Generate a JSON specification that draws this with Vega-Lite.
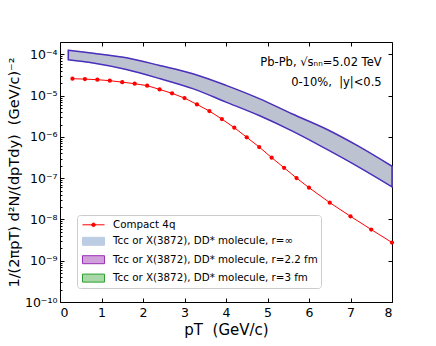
{
  "$schema": "https://vega.github.io/schema/vega-lite/v6.json",
  "width": 332,
  "height": 260,
  "autosize": "none",
  "padding": {"left": 60, "top": 42, "right": 44, "bottom": 44},
  "background": "white",
  "config": {
    "font": "DejaVu Sans",
    "view": {"stroke": "black", "strokeWidth": 1},
    "axis": {"domain": false, "grid": false, "tickColor": "black", "labelColor": "black", "titleColor": "black", "titleFontWeight": "normal"}
  },
  "datasets": {
    "band": [
      {"pT": 0.2, "hi": 1.26e-4, "lo": 7.4e-5},
      {"pT": 0.8, "hi": 1.07e-4, "lo": 6.2e-5},
      {"pT": 1.6, "hi": 8.3e-5, "lo": 4.3e-5},
      {"pT": 2.4, "hi": 5.4e-5, "lo": 2.6e-5},
      {"pT": 3.2, "hi": 3.4e-5, "lo": 1.48e-5},
      {"pT": 4.0, "hi": 1.78e-5, "lo": 7.0e-6},
      {"pT": 4.8, "hi": 8.5e-6, "lo": 3.3e-6},
      {"pT": 5.6, "hi": 3.6e-6, "lo": 1.38e-6},
      {"pT": 6.4, "hi": 1.58e-6, "lo": 5.2e-7},
      {"pT": 7.2, "hi": 5.9e-7, "lo": 1.86e-7},
      {"pT": 8.0, "hi": 1.95e-7, "lo": 6.2e-8}
    ],
    "compact": [
      {"pT": 0.3, "y": 2.58e-5},
      {"pT": 0.6, "y": 2.52e-5},
      {"pT": 0.9, "y": 2.44e-5},
      {"pT": 1.2, "y": 2.31e-5},
      {"pT": 1.5, "y": 2.13e-5},
      {"pT": 1.8, "y": 1.95e-5},
      {"pT": 2.1, "y": 1.75e-5},
      {"pT": 2.4, "y": 1.42e-5},
      {"pT": 2.7, "y": 1.14e-5},
      {"pT": 3.0, "y": 8.75e-6},
      {"pT": 3.3, "y": 6.15e-6},
      {"pT": 3.6, "y": 4.24e-6},
      {"pT": 3.9, "y": 2.71e-6},
      {"pT": 4.2, "y": 1.68e-6},
      {"pT": 4.5, "y": 9.8e-7},
      {"pT": 4.8, "y": 5.7e-7},
      {"pT": 5.1, "y": 3.15e-7},
      {"pT": 5.4, "y": 1.79e-7},
      {"pT": 5.7, "y": 1.01e-7},
      {"pT": 6.0, "y": 5.9e-8},
      {"pT": 6.5, "y": 2.56e-8},
      {"pT": 7.0, "y": 1.19e-8},
      {"pT": 7.5, "y": 5.7e-9},
      {"pT": 8.0, "y": 2.76e-9}
    ],
    "annot": [
      {"pT": 7.75, "y": 6.05e-5, "label": "Pb-Pb, √sₙₙ=5.02 TeV"},
      {"pT": 7.75, "y": 2.0e-5, "label": "0-10%,\u00a0 |y|<0.5"}
    ]
  },
  "layer": [
    {
      "data": {"name": "band"},
      "mark": {"type": "area", "opacity": 1, "strokeWidth": 1, "interpolate": "monotone"},
      "encoding": {
        "x": {
          "field": "pT", "type": "quantitative",
          "scale": {"domain": [0, 8], "nice": false, "zero": false},
          "axis": {"orient": "bottom", "values": [0, 1, 2, 3, 4, 5, 6, 7, 8], "format": "d", "tickSize": -4, "labelPadding": 8, "labelFontSize": 12.5, "title": "pT \u00a0(GeV/c)", "titleFontSize": 15, "titlePadding": 4}
        },
        "y": {
          "field": "hi", "type": "quantitative",
          "scale": {"type": "log", "domain": [1e-10, 2e-4], "nice": false},
          "axis": {
            "orient": "left",
            "values": [1e-10, 2e-10, 3e-10, 4e-10, 5e-10, 6e-10, 7e-10, 8e-10, 9e-10, 1e-9, 2e-9, 3e-9, 4e-9, 5e-9, 6e-9, 7e-9, 8e-9, 9e-9, 1e-8, 2e-8, 3e-8, 4e-8, 5e-8, 6e-8, 7e-8, 8e-8, 9e-8, 1e-7, 2e-7, 3e-7, 4e-7, 5e-7, 6e-7, 7e-7, 8e-7, 9e-7, 1e-6, 2e-6, 3e-6, 4e-6, 5e-6, 6e-6, 7e-6, 8e-6, 9e-6, 1e-5, 2e-5, 3e-5, 4e-5, 5e-5, 6e-5, 7e-5, 8e-5, 9e-5, 1e-4],
            "labelExpr": "abs(log(datum.value)/LN10 - round(log(datum.value)/LN10)) < 0.001 ? '10' + replace(replace(replace(replace(replace(replace(replace(replace('-' + toString(-round(log(datum.value)/LN10)), '-', '⁻'), '10', '¹⁰'), '4', '⁴'), '5', '⁵'), '6', '⁶'), '7', '⁷'), '8', '⁸'), '9', '⁹') : ''",
            "labelOverlap": false,
            "tickSize": {"condition": {"test": "abs(log(datum.value)/LN10 - round(log(datum.value)/LN10)) < 0.001", "value": -4}, "value": -2},
            "labelPadding": 7,
            "labelFontSize": 12.5,
            "title": "1/(2πpT) d²N/(dpTdy) \u00a0(GeV/c)⁻²",
            "titleFontSize": 14.5,
            "titlePadding": 3
          }
        },
        "y2": {"field": "lo"},
        "fill": {
          "datum": "Tcc or X(3872), DD* molecule, r=∞", "type": "nominal",
          "scale": {
            "domain": ["Tcc or X(3872), DD* molecule, r=∞", "Tcc or X(3872), DD* molecule, r=2.2 fm", "Tcc or X(3872), DD* molecule, r=3 fm"],
            "range": ["#bccde3", "#cfa0da", "#a8d8a8"]
          },
          "legend": {
            "orient": "none", "legendX": 17, "legendY": 173, "zindex": 0,
            "title": "\u00a0", "titleColor": "transparent", "titleFontSize": 10.5, "titleFontWeight": "normal", "titlePadding": 6,
            "fillColor": "white", "strokeColor": "#cccccc", "cornerRadius": 3,
            "padding": 3.3, "symbolOffset": 6.7, "labelOffset": 13, "symbolSize": 144,
            "symbolType": "M-1.833,-0.667H1.833V0.667H-1.833Z", "symbolStrokeWidth": 1,
            "rowPadding": 5.4, "labelFontSize": 10.3, "labelLimit": 0, "labelFont": "DejaVu Sans"
          }
        },
        "stroke": {
          "datum": "Tcc or X(3872), DD* molecule, r=∞", "type": "nominal",
          "scale": {
            "domain": ["Tcc or X(3872), DD* molecule, r=∞", "Tcc or X(3872), DD* molecule, r=2.2 fm", "Tcc or X(3872), DD* molecule, r=3 fm"],
            "range": ["#bccde3", "#9a2fb5", "#2ca02c"]
          }
        }
      }
    },
    {
      "data": {"name": "band"},
      "mark": {"type": "area", "fillOpacity": 0.4, "interpolate": "monotone"},
      "encoding": {
        "x": {"field": "pT", "type": "quantitative", "axis": {"orient": "top", "values": [0, 1, 2, 3, 4, 5, 6, 7, 8], "labels": false, "title": null, "tickSize": -4}},
        "y": {"field": "hi", "type": "quantitative", "axis": {"orient": "right", "values": [1e-10, 1e-9, 1e-8, 1e-7, 1e-6, 1e-5, 1e-4], "labels": false, "title": null, "tickSize": -4}},
        "y2": {"field": "lo"},
        "fill": {"datum": "Tcc or X(3872), DD* molecule, r=2.2 fm", "type": "nominal"}
      }
    },
    {
      "data": {"name": "band"},
      "mark": {"type": "area", "fillOpacity": 0.25, "stroke": "#4b30bb", "strokeWidth": 1.5, "interpolate": "monotone"},
      "encoding": {
        "x": {"field": "pT", "type": "quantitative", "axis": null},
        "y": {"field": "hi", "type": "quantitative", "axis": null},
        "y2": {"field": "lo"},
        "fill": {"datum": "Tcc or X(3872), DD* molecule, r=3 fm", "type": "nominal"}
      }
    },
    {
      "data": {"name": "compact"},
      "mark": {"type": "line", "strokeWidth": 1, "point": {"filled": true, "size": 18}},
      "encoding": {
        "x": {"field": "pT", "type": "quantitative", "axis": null},
        "y": {"field": "y", "type": "quantitative", "axis": null},
        "color": {
          "datum": "Compact 4q", "type": "nominal",
          "scale": {"domain": ["Compact 4q"], "range": ["#ff0000"]},
          "legend": {
            "orient": "none", "legendX": 17, "legendY": 173, "zindex": 1, "title": null,
            "padding": 3.3, "symbolOffset": 6.7, "labelOffset": 13, "symbolSize": 144,
            "symbolType": "M-1.833,0H1.833M-0.3,0A0.3,0.3 0 1,0 0.3,0A0.3,0.3 0 1,0 -0.3,0",
            "symbolFillColor": "#ff0000", "symbolStrokeWidth": 1,
            "labelFontSize": 10.3, "labelLimit": 0, "labelFont": "DejaVu Sans"
          }
        }
      }
    },
    {
      "data": {"name": "annot"},
      "mark": {"type": "text", "align": "right", "baseline": "middle", "fontSize": 11.5, "font": "DejaVu Sans", "color": "black"},
      "encoding": {
        "x": {"field": "pT", "type": "quantitative", "axis": null},
        "y": {"field": "y", "type": "quantitative", "axis": null},
        "text": {"field": "label"}
      }
    }
  ],
  "resolve": {"axis": {"x": "independent", "y": "independent"}}
}
